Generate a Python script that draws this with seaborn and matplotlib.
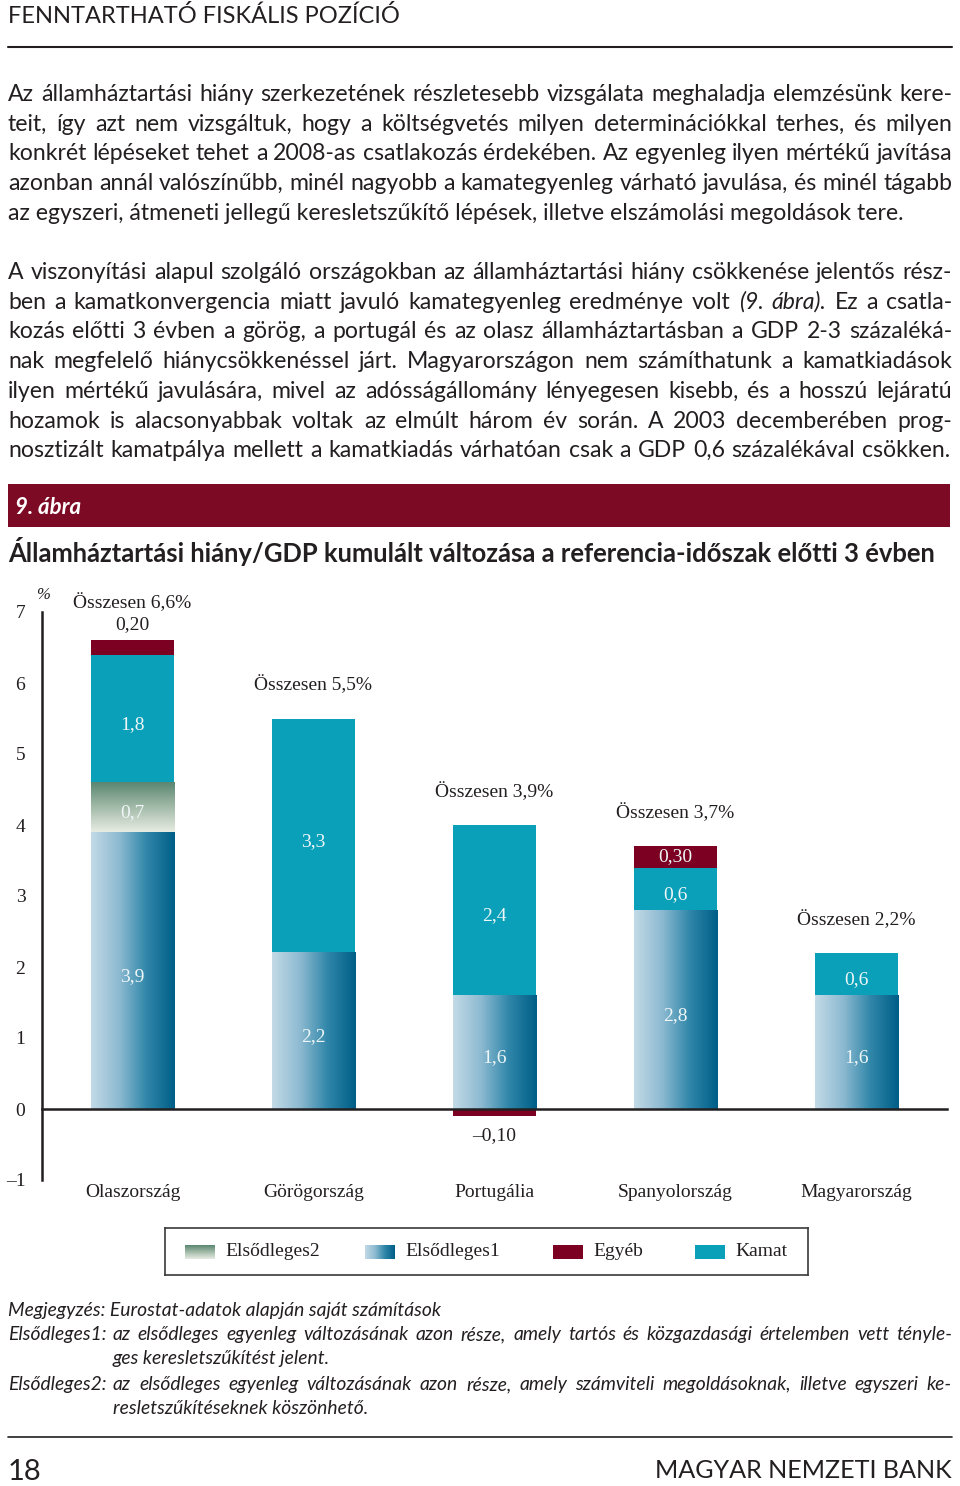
import numpy as np
import matplotlib
matplotlib.use("Agg")
import matplotlib.pyplot as plt
from matplotlib.colors import LinearSegmentedColormap
from matplotlib.lines import Line2D
from matplotlib.patches import Rectangle
import seaborn as sns

# ── DATA ─────────────────────────────────────────────────────
countries = ["Olaszország", "Görögország", "Portugália", "Spanyolország", "Magyarország"]
elsodleges1 = [3.9, 2.2, 1.6, 2.8, 1.6]
elsodleges2 = [0.7, 0.0, 0.0, 0.0, 0.0]
kamat = [1.8, 3.3, 2.4, 0.6, 0.6]
egyeb = [0.20, 0.0, -0.10, 0.30, 0.0]
osszesen = [6.6, 5.5, 3.9, 3.7, 2.2]
yticks = [-1, 0, 1, 2, 3, 4, 5, 6, 7]
legend_names = ["Elsődleges2", "Elsődleges1", "Egyéb", "Kamat"]

header = "FENNTARTHATÓ FISKÁLIS POZÍCIÓ"
para1 = [
    "Az államháztartási hiány szerkezetének részletesebb vizsgálata meghaladja elemzésünk kere-",
    "teit, így azt nem vizsgáltuk, hogy a költségvetés milyen determinációkkal terhes, és milyen",
    "konkrét lépéseket tehet a 2008-as csatlakozás érdekében. Az egyenleg ilyen mértékű javítása",
    "azonban annál valószínűbb, minél nagyobb a kamategyenleg várható javulása, és minél tágabb",
    "az egyszeri, átmeneti jellegű keresletszűkítő lépések, illetve elszámolási megoldások tere.",
]
para2 = [
    "A viszonyítási alapul szolgáló országokban az államháztartási hiány csökkenése jelentős rész-",
    "ben a kamatkonvergencia miatt javuló kamategyenleg eredménye volt (9. ábra). Ez a csatla-",
    "kozás előtti 3 évben a görög, a portugál és az olasz államháztartásban a GDP 2-3 százaléká-",
    "nak megfelelő hiánycsökkenéssel járt. Magyarországon nem számíthatunk a kamatkiadások",
    "ilyen mértékű javulására, mivel az adósságállomány lényegesen kisebb, és a hosszú lejáratú",
    "hozamok is alacsonyabbak voltak az elmúlt három év során. A 2003 decemberében prog-",
    "nosztizált kamatpálya mellett a kamatkiadás várhatóan csak a GDP 0,6 százalékával csökken.",
]
italic_words = {"(9.", "ábra)."}
fig_label = "9. ábra"
title = "Államháztartási hiány/GDP kumulált változása a referencia-időszak előtti 3 évben"
note = "Megjegyzés: Eurostat-adatok alapján saját számítások"
note_e1 = ["az elsődleges egyenleg változásának azon része, amely tartós és közgazdasági értelemben vett tényle-",
           "ges keresletszűkítést jelent."]
note_e2 = ["az elsődleges egyenleg változásának azon része, amely számviteli megoldásoknak, illetve egyszeri ke-",
           "resletszűkítéseknek köszönhető."]
page_no = "18"
publisher = "MAGYAR NEMZETI BANK"

# ── STYLE ────────────────────────────────────────────────────
KAMAT = "#0aa0b9"
EGYEB = "#7b0021"
BAND = "#7d0a24"
INK = "#231f20"
e1_cmap = LinearSegmentedColormap.from_list("e1", ["#c3dae7", "#8dbad1", "#2f86a9", "#005e87"])
e2_cmap = LinearSegmentedColormap.from_list("e2", ["#5a8671", "#a3bba9", "#e8ece3"])

sns.set_theme(style="white")
plt.rcParams["font.family"] = ["Lato", "DejaVu Sans"]
SERIF = ["Liberation Serif", "DejaVu Serif"]

W, H = 960, 1486
fig = plt.figure(figsize=(W / 100, H / 100), dpi=100)
fig.patch.set_facecolor("white")
renderer = fig.canvas.get_renderer()


def fx(x):
    return x / W


def fy(y):
    return 1 - y / H


def put(x, y, s, **kw):
    kw.setdefault("color", INK)
    return fig.text(fx(x), fy(y), s, va="baseline", **kw)


def width_px(t):
    return t.get_window_extent(renderer).width


def fit(x, y, s, target, **kw):
    t = put(x, y, s, fontsize=14, **kw)
    t.set_fontsize(14 * target / width_px(t))
    return t


def justify(line, x0, x1, y, size, **kw):
    ts = [put(x0, y, w, fontsize=size,
              fontstyle="italic" if w in italic_words else kw.get("fontstyle", "normal"),
              **{k: v for k, v in kw.items() if k != "fontstyle"})
          for w in line.split()]
    ws = [width_px(t) for t in ts]
    gap = (x1 - x0 - sum(ws)) / (len(ts) - 1)
    x = x0
    for t, w in zip(ts, ws):
        t.set_x(fx(x))
        x += w + gap


# ── PAGE TEXT ────────────────────────────────────────────────
fit(8, 23, header, 392)
fig.add_artist(Line2D([fx(8), fx(952)], [fy(47), fy(47)], lw=1.5, color=INK))

body = fit(8, 220, para1[-1], 897)
bsize = body.get_fontsize()
for i, line in enumerate(para1[:-1]):
    justify(line, 8, 952, 101 + i * 29.7, bsize)
for i, line in enumerate(para2):
    justify(line, 8, 952 if i < len(para2) - 1 else 950, 279 + i * 29.7, bsize)

fig.add_artist(Rectangle((fx(8), fy(527)), 942 / W, 43 / H, transform=fig.transFigure,
                         color=BAND, lw=0))
put(15, 514, fig_label, fontsize=16, fontweight="bold", fontstyle="italic", color="white")
fit(8, 562, title, 938, fontweight="bold")

# ── CHART ────────────────────────────────────────────────────
ax = fig.add_axes([fx(42), fy(1180), (947 - 42) / W, (1180 - 612) / H])
ax.set_facecolor("none")

e1 = np.array(elsodleges1)
e2 = np.array(elsodleges2)
k = np.array(kamat)
eg = np.array(egyeb)
bottom_k = e1 + e2
bottom_eg = np.where(eg > 0, bottom_k + k, 0)
tops = bottom_k + k + np.clip(eg, 0, None)

common = dict(x=countries, width=0.46, errorbar=None, saturation=1, linewidth=0, ax=ax)
sns.barplot(y=elsodleges1, color="#3f8fb0", **common)
c_e1 = ax.containers[-1]
sns.barplot(y=elsodleges2, bottom=e1, color="#8fae9a", **common)
c_e2 = ax.containers[-1]
sns.barplot(y=kamat, bottom=bottom_k, color=KAMAT, **common)
c_k = ax.containers[-1]
sns.barplot(y=egyeb, bottom=bottom_eg, color=EGYEB, **common)
c_eg = ax.containers[-1]


def shade(container, cmap, vertical):
    grad = np.linspace(0, 1, 256)
    img = grad[:, None] if vertical else grad[None, :]
    for p in container.patches:
        if p.get_height() == 0:
            continue
        x0, y0 = p.get_x(), p.get_y()
        ax.imshow(img, cmap=cmap, origin="upper", aspect="auto", interpolation="bilinear",
                  extent=(x0, x0 + p.get_width(), y0, y0 + p.get_height()), zorder=2)
        p.set_facecolor("none")


shade(c_e1, e1_cmap, vertical=False)
shade(c_e2, e2_cmap, vertical=True)


def fmt(v, nd=1):
    s = f"{abs(v):.{nd}f}".replace(".", ",")
    return ("–" + s) if v < 0 else s


lab = dict(ha="center", va="center", family=SERIF, fontsize=14, zorder=5)
for cont in (c_e1, c_e2, c_k):
    for p, v in zip(cont.patches, cont.datavalues):
        if v:
            ax.text(p.get_x() + p.get_width() / 2, p.get_y() + p.get_height() / 2 - 0.08,
                    fmt(v), color="#eef6f7", **lab)
for i, v in enumerate(egyeb):
    if not v:
        continue
    p = c_eg.patches[i]
    xc = p.get_x() + p.get_width() / 2
    if abs(v) >= 0.25:
        ax.text(xc, p.get_y() + p.get_height() / 2, fmt(v, 2), color="#eef6f7", **lab)
    elif v > 0:
        ax.text(xc, tops[i] + 0.22, fmt(v, 2), color=INK, **lab)
    else:
        ax.text(xc, v - 0.28, fmt(v, 2), color=INK, **lab)

for i, tot in enumerate(osszesen):
    extra = 0.06 if 0 < egyeb[i] < 0.25 else 0
    ax.text(i, tops[i] + 0.47 + extra, f"Összesen {fmt(tot)}%", color=INK, **lab)
    ax.text(i, -1.17, countries[i], color=INK, **lab)

ax.text(-0.492, 7.24, "%", ha="center", va="center", family=SERIF, fontsize=12,
        fontstyle="italic", color=INK)

ax.set_xlim(-0.5, len(countries) - 0.5)
ax.set_ylim(yticks[0], yticks[-1])
ax.set_xticks(np.arange(len(countries)) + 0.5, labels=[""] * len(countries))
ax.set_yticks(yticks, labels=[str(t).replace("-", "–") for t in yticks])
for lbl in ax.get_yticklabels():
    lbl.set_fontfamily(SERIF)
ax.tick_params(axis="y", length=9, width=1.8, color=INK, labelsize=14, labelcolor=INK, pad=3)
ax.tick_params(axis="x", length=10, width=1.8, color=INK, direction="out")
for side in ("top", "right"):
    ax.spines[side].set_visible(False)
for side in ("left", "bottom"):
    ax.spines[side].set_linewidth(1.8)
    ax.spines[side].set_color(INK)
ax.spines["bottom"].set_position(("data", 0))
ax.spines["bottom"].set_zorder(4)
ax.set_xlabel("")
ax.set_ylabel("")
ax.grid(False)

# ── LEGEND ───────────────────────────────────────────────────
lax = fig.add_axes([fx(165), fy(1275), (808 - 165) / W, 47 / H])
lax.set_xticks([])
lax.set_yticks([])
for s in lax.spines.values():
    s.set_linewidth(1.2)
    s.set_color("#3a3a3a")
grad = np.linspace(0, 1, 128)
for name, px in zip(legend_names, [185, 365, 553, 695]):
    ext = (px, px + 30, 16, 30)
    if name == "Elsődleges2":
        lax.imshow(grad[:, None], cmap=e2_cmap, origin="upper", aspect="auto", extent=ext)
    elif name == "Elsődleges1":
        lax.imshow(grad[None, :], cmap=e1_cmap, origin="upper", aspect="auto", extent=ext)
    else:
        lax.add_patch(Rectangle((px, 16), 30, 14, color=EGYEB if name == "Egyéb" else KAMAT, lw=0))
    lax.text(px + 40, 23, name, va="center", ha="left", family=SERIF, fontsize=14, color=INK)
lax.set_xlim(165, 808)
lax.set_ylim(0, 47)

# ── NOTES & FOOTER ───────────────────────────────────────────
n = fit(8, 1316, note, 433, fontstyle="italic")
nsize = n.get_fontsize()
put(8, 1340, "Elsődleges1:", fontsize=nsize, fontstyle="italic")
justify(note_e1[0], 113, 952, 1340, nsize, fontstyle="italic")
put(113, 1364, note_e1[1], fontsize=nsize, fontstyle="italic")
put(8, 1390, "Elsődleges2:", fontsize=nsize, fontstyle="italic")
justify(note_e2[0], 113, 952, 1390, nsize, fontstyle="italic")
put(113, 1414, note_e2[1], fontsize=nsize, fontstyle="italic")

fig.add_artist(Line2D([fx(8), fx(952)], [fy(1437), fy(1437)], lw=1.2, color=INK))
put(8, 1480, page_no, fontsize=21)
pub = fit(655, 1478, publisher, 297)

plt.savefig("out.png", dpi=100)
